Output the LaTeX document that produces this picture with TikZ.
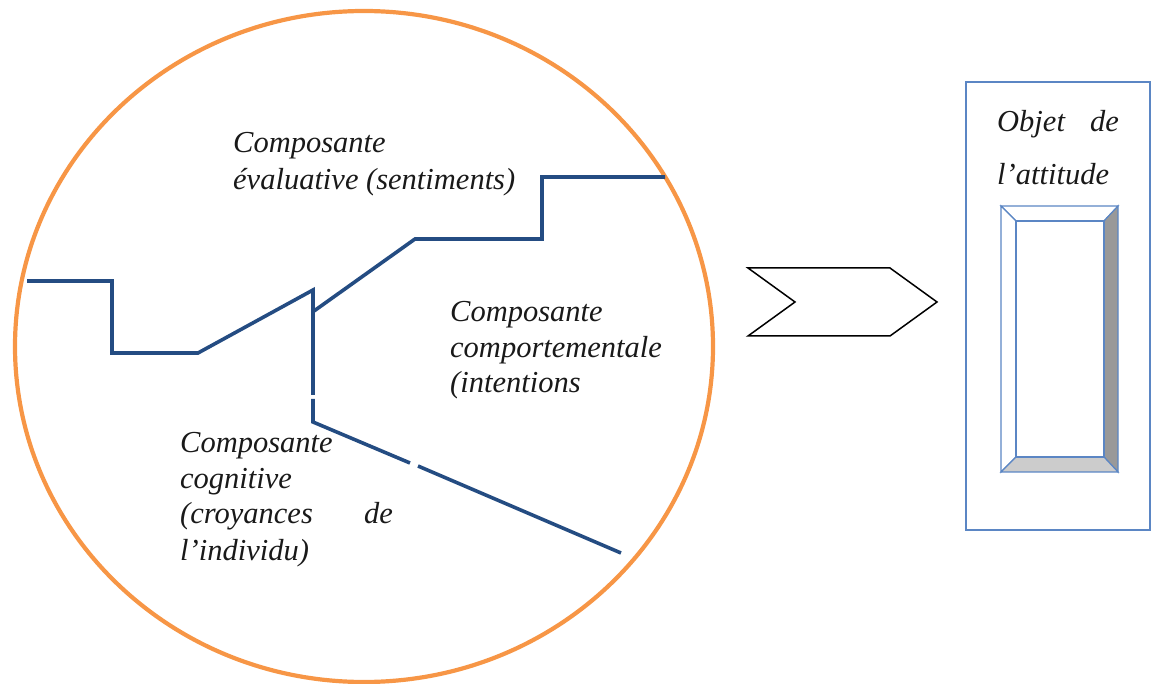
\documentclass[tikz,border=0pt]{standalone}
\usepackage{fontspec}
\setmainfont{Liberation Serif}
\begin{document}
\begin{tikzpicture}[x=1pt,y=-1pt,
  lbl/.style={inner sep=0pt,anchor=base west,font=\fontsize{30.5}{36}\selectfont\itshape,text=black!90},
  lblr/.style={lbl,anchor=base east},
  blueline/.style={draw=blueL,line width=3.6pt,line join=miter},
  bevel/.style={draw=boxblue,line width=1.2pt,line join=miter}]
\definecolor{blueL}{HTML}{244C82}
\definecolor{orangeC}{HTML}{F79646}
\definecolor{boxblue}{HTML}{5B86C4}
\useasboundingbox (0,0) rectangle (1152,684);
% ellipse
\draw[orangeC,line width=4.2pt] (364,346.5) ellipse [x radius=349,y radius=335.5];
% blue lines
\coordinate (a1) at (27,281);
\coordinate (a2) at (112,281);
\coordinate (a3) at (112,353);
\coordinate (a4) at (198,353);
\coordinate (a5) at (313,290);
\coordinate (a6) at (313,395);
\coordinate (b1) at (313,399);
\coordinate (b2) at (313,422);
\coordinate (b3) at (410,463);
\coordinate (c1) at (418,466);
\coordinate (c2) at (621,553);
\coordinate (d1) at (314,311);
\coordinate (d2) at (415,239);
\coordinate (d3) at (542,239);
\coordinate (d4) at (542,177);
\coordinate (d5) at (665,177);
\draw[blueline] (a1) -- (a2) -- (a3) -- (a4) -- (a5) -- (a6);
\draw[blueline] (b1) -- (b2) -- (b3);
\draw[blueline] (c1) -- (c2);
\draw[blueline] (d1) -- (d2) -- (d3) -- (d4) -- (d5);
% labels
\node[lbl] (e1) at (233,153) {Composante};
\node[lbl] (e2) at (233,190) {évaluative (sentiments)};
\node[lbl] (c1t) at (450,322) {Composante};
\node[lbl] (c2t) at (450,358) {comportementale};
\node[lbl] (c3t) at (450,393) {(intentions};
\node[lbl] (g1) at (180,453) {Composante};
\node[lbl] (g2) at (180,489) {cognitive};
\node[lbl] (g3) at (180,524) {(croyances};
\node[lblr] (g3b) at (393,524) {de};
\node[lbl] (g4) at (180,560) {l’individu)};
% chevron
\draw[black,line width=1.5pt,line join=miter] (748,268) -- (890,268) -- (937,302) -- (890,336) -- (748,336) -- (795,302) -- cycle;
% object box
\draw[boxblue,line width=1.2pt] (966,82) rectangle (1150,530);
\node[lbl] (o1) at (997,132) {Objet};
\node[lblr] (o2) at (1119,132) {de};
\node[lbl] (o3) at (997,185) {l’attitude};
\coordinate (p1) at (1001,206);
\coordinate (p2) at (1118,206);
\coordinate (p3) at (1118,472);
\coordinate (p4) at (1001,472);
\coordinate (q1) at (1016,221);
\coordinate (q2) at (1104,221);
\coordinate (q3) at (1104,457);
\coordinate (q4) at (1016,457);
\filldraw[bevel,fill=white] (p1) -- (p2) -- (q2) -- (q1) -- cycle;
\filldraw[bevel,fill=white] (p1) -- (q1) -- (q4) -- (p4) -- cycle;
\filldraw[bevel,fill=black!40] (p2) -- (p3) -- (q3) -- (q2) -- cycle;
\filldraw[bevel,fill=black!20] (p4) -- (q4) -- (q3) -- (p3) -- cycle;
\filldraw[bevel,fill=white] (q1) rectangle (q3);
\end{tikzpicture}
\end{document}
